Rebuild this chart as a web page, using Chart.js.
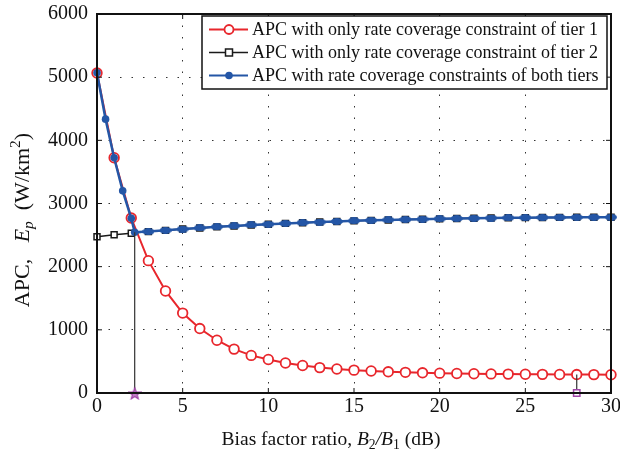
<!DOCTYPE html>
<html>
<head>
<meta charset="utf-8">
<script src="https://cdn.jsdelivr.net/npm/chart.js@4.4.1/dist/chart.umd.min.js"></script>
<style>
    html, body { margin: 0; padding: 0; background: #fff; }
    #wrap { width: 620px; height: 456px; }
</style>
</head>
<body>
<div id="wrap"><canvas id="chart" width="620" height="456"></canvas></div>
<script>
// bias factor ratio B2/B1 (dB)
const biasX = [0, 1, 2, 3, 4, 5, 6, 7, 8, 9, 10, 11, 12, 13, 14, 15,
               16, 17, 18, 19, 20, 21, 22, 23, 24, 25, 26, 27, 28, 29, 30];
// APC, only tier 1 constraint
const apcTier1 = [5065, 3725, 2770, 2095, 1615, 1265, 1020, 835, 695, 595, 530, 475, 435, 402, 380,
                  362, 348, 336, 327, 320, 314, 309, 305, 302, 299, 297, 295, 293, 292, 291, 290];
// APC, only tier 2 constraint
const apcTier2 = [2475, 2505, 2530, 2555, 2575, 2595, 2613, 2630, 2645, 2660, 2673, 2685, 2696, 2706, 2716,
                  2725, 2733, 2740, 2746, 2752, 2757, 2762, 2766, 2770, 2773, 2776, 2778, 2780, 2781, 2782, 2783];
// APC, both constraints (first part before the crossing)
const bothX = [0, 0.5, 1, 1.5, 2, 2.2];
const bothY = [5070, 4335, 3725, 3200, 2765, 2545];
// optimum markers
const optBoth = { x: 2.2, y: 2545 };
const optTier1 = { x: 28, y: 292 };

const yTicks = [0, 1000, 2000, 3000, 4000, 5000, 6000];
const xTicks = [0, 5, 10, 15, 20, 25, 30];

const labels = [
    "APC with only rate coverage constraint of tier 1",
    "APC with only rate coverage constraint of tier 2",
    "APC with rate coverage constraints of both tiers"
];

const RED = "#e8262c";
const BLACK = "#1a1a1a";
const BLUE = "#2456a6";
const PURPLE = "#a045a8";
const SERIF = "'Liberation Serif', 'DejaVu Serif', serif";

function pts (xs, ys) {
    return xs.map((x, i) => ({ x: x, y: ys[i] }));
}

// blue line: first part then follows tier 2 from x=3
const bothPts = pts(bothX, bothY).concat(pts(biasX.slice(3), apcTier2.slice(3)));

function makeOval (w, h, color) {
    const c = document.createElement("canvas");
    c.width = w; c.height = h;
    const g = c.getContext("2d");
    g.fillStyle = color;
    g.beginPath();
    g.ellipse(w / 2, h / 2, w / 2, h / 2, 0, 0, Math.PI * 2);
    g.fill();
    return c;
}

function makeStar (size, color) {
    const c = document.createElement("canvas");
    c.width = size; c.height = size;
    const g = c.getContext("2d");
    const r = size / 2 - 1, r2 = r * 0.42, cx = size / 2, cy = size / 2 + 1;
    g.beginPath();
    for (let i = 0; i < 10; i++) {
        const a = -Math.PI / 2 + i * Math.PI / 5;
        const rr = i % 2 === 0 ? r : r2;
        g.lineTo(cx + rr * Math.cos(a), cy + rr * Math.sin(a));
    }
    g.closePath();
    g.fillStyle = "#c27fc6";
    g.fill();
    g.strokeStyle = color;
    g.lineWidth = 1.2;
    g.stroke();
    return c;
}

const ovalImg = makeOval(12, 7, BLUE);
const starImg = makeStar(14, PURPLE);

// draw text made of pieces (italic, sub, sup)
function drawPieces (ctx, pieces, cx, baseY, size) {
    const fontOf = p => (p.italic ? "italic " : "") + (p.small ? size * 0.7 : size) + "px " + SERIF;
    let total = 0;
    pieces.forEach(p => { ctx.font = fontOf(p); total += ctx.measureText(p.t).width; });
    let x = cx - total / 2;
    ctx.textAlign = "left";
    ctx.textBaseline = "alphabetic";
    pieces.forEach(p => {
        ctx.font = fontOf(p);
        ctx.fillText(p.t, x, baseY + (p.dy || 0));
        x += ctx.measureText(p.t).width;
    });
}

const framePlugin = {
    id: "frame",
    afterDatasetsDraw (chart) {
        const ctx = chart.ctx;
        const a = chart.chartArea;
        const xs = chart.scales.x, ys = chart.scales.y;
        ctx.save();
        ctx.strokeStyle = "#111";
        ctx.lineWidth = 2;
        ctx.strokeRect(a.left, a.top, a.right - a.left, a.bottom - a.top);
        ctx.lineWidth = 1;
        ctx.beginPath();
        xTicks.forEach(v => {
            const px = xs.getPixelForValue(v);
            ctx.moveTo(px, a.bottom); ctx.lineTo(px, a.bottom - 5);
            ctx.moveTo(px, a.top); ctx.lineTo(px, a.top + 5);
        });
        yTicks.forEach(v => {
            const py = ys.getPixelForValue(v);
            ctx.moveTo(a.left, py); ctx.lineTo(a.left + 5, py);
            ctx.moveTo(a.right, py); ctx.lineTo(a.right - 5, py);
        });
        ctx.stroke();
        ctx.restore();
    },
    afterDraw (chart) {
        const ctx = chart.ctx;
        ctx.save();
        ctx.fillStyle = "#111";
        // x title
        drawPieces(ctx, [
            { t: "Bias factor ratio, " },
            { t: "B", italic: true },
            { t: "2", small: true, dy: 4 },
            { t: "/", italic: true },
            { t: "B", italic: true },
            { t: "1", small: true, dy: 4 },
            { t: " (dB)" }
        ], 331, 445, 19.5);
        // y title
        ctx.translate(29, 220);
        ctx.rotate(-Math.PI / 2);
        drawPieces(ctx, [
            { t: "APC,   " },
            { t: "E", italic: true },
            { t: "p", italic: true, small: true, dy: 4 },
            { t: "  (W/km" },
            { t: "2", small: true, dy: -9 },
            { t: ")" }
        ], 0, 0, 22);
        ctx.restore();

        // legend box
        const lx = 202, ly = 16, lw = 405, lh = 73;
        ctx.save();
        ctx.fillStyle = "#fff";
        ctx.fillRect(lx, ly, lw, lh);
        ctx.strokeStyle = "#111";
        ctx.lineWidth = 1.5;
        ctx.strokeRect(lx, ly, lw, lh);
        const rows = [29.5, 52.5, 75.5];
        const cols = [RED, BLACK, BLUE];
        rows.forEach((y, i) => {
            ctx.strokeStyle = cols[i];
            ctx.lineWidth = i === 1 ? 1.5 : 2;
            ctx.beginPath();
            ctx.moveTo(209, y); ctx.lineTo(248, y);
            ctx.stroke();
            ctx.beginPath();
            if (i === 0) {
                ctx.arc(229, y, 4.5, 0, Math.PI * 2);
                ctx.fillStyle = "#fff"; ctx.fill();
                ctx.lineWidth = 1.8; ctx.stroke();
            } else if (i === 1) {
                ctx.fillStyle = "#fff";
                ctx.fillRect(225.5, y - 3.5, 7, 7);
                ctx.lineWidth = 1.5;
                ctx.strokeRect(225.5, y - 3.5, 7, 7);
            } else {
                ctx.arc(229, y, 3.8, 0, Math.PI * 2);
                ctx.fillStyle = BLUE; ctx.fill();
            }
            ctx.fillStyle = "#111";
            ctx.font = "18px " + SERIF;
            ctx.textAlign = "left";
            ctx.textBaseline = "middle";
            ctx.fillText(labels[i], 252, y + 1);
        });
        ctx.restore();
    }
};

const ctx = document.getElementById("chart");

new Chart(ctx, {
    type: "line",
    data: {
        datasets: [
            {
                label: labels[0],
                data: pts(biasX, apcTier1),
                borderColor: RED,
                borderWidth: 2,
                pointStyle: "circle",
                pointRadius: 4.8,
                pointBorderWidth: 1.8,
                pointBorderColor: RED,
                pointBackgroundColor: "#fff",
                order: 3
            },
            {
                label: labels[1],
                data: pts(biasX, apcTier2),
                borderColor: BLACK,
                borderWidth: 1.5,
                pointStyle: "rect",
                pointRadius: 4.2,
                pointBorderWidth: 1.5,
                pointBorderColor: BLACK,
                pointBackgroundColor: "#fff",
                order: 2
            },
            {
                label: labels[2],
                data: bothPts,
                borderColor: BLUE,
                borderWidth: 2.5,
                pointStyle: function (c) {
                    return c.raw && c.raw.x <= 2.2 ? "circle" : ovalImg;
                },
                pointRadius: 3.8,
                pointBorderWidth: 0,
                pointBackgroundColor: BLUE,
                order: 1
            },
            {
                label: "opt both",
                data: [optBoth, { x: optBoth.x, y: 0 }],
                borderColor: "#333",
                borderWidth: 1.2,
                pointStyle: starImg,
                pointRadius: [0, 6],
                order: 0
            },
            {
                label: "opt tier 1",
                data: [optTier1, { x: optTier1.x, y: 0 }],
                borderColor: "#333",
                borderWidth: 1.2,
                pointStyle: "rect",
                pointRadius: [0, 4.5],
                pointBorderWidth: 1.5,
                pointBorderColor: PURPLE,
                pointBackgroundColor: "#fff",
                order: 0
            }
        ]
    },
    options: {
        responsive: false,
        animation: false,
        clip: false,
        layout: {
            padding: { left: 0, right: 9, top: 14, bottom: 0 }
        },
        scales: {
            x: {
                type: "linear",
                min: 0,
                max: 30,
                afterBuildTicks: function (s) {
                    s.ticks = xTicks.map(v => ({ value: v }));
                },
                afterFit: function (s) {
                    s.height = 63;
                    s.paddingLeft = 0;
                    s.paddingRight = 0;
                },
                ticks: {
                    color: "#111",
                    padding: 2,
                    maxRotation: 0,
                    font: { family: SERIF, size: 20 },
                    callback: v => String(v)
                },
                grid: {
                    color: "#333",
                    lineWidth: 1,
                    drawTicks: false
                },
                border: {
                    display: false,
                    dash: [1.5, 10]
                }
            },
            y: {
                min: 0,
                max: 6000,
                afterBuildTicks: function (s) {
                    s.ticks = yTicks.map(v => ({ value: v }));
                },
                afterFit: function (s) {
                    s.width = 97;
                    s.paddingTop = 0;
                    s.paddingBottom = 0;
                },
                ticks: {
                    color: "#111",
                    padding: 9,
                    font: { family: SERIF, size: 20 },
                    callback: v => String(v)
                },
                grid: {
                    color: "#333",
                    lineWidth: 1,
                    drawTicks: false
                },
                border: {
                    display: false,
                    dash: [1.5, 10]
                }
            }
        },
        plugins: {
            legend: { display: false },
            tooltip: { enabled: false }
        }
    },
    plugins: [framePlugin]
});
</script>
</body>
</html>
